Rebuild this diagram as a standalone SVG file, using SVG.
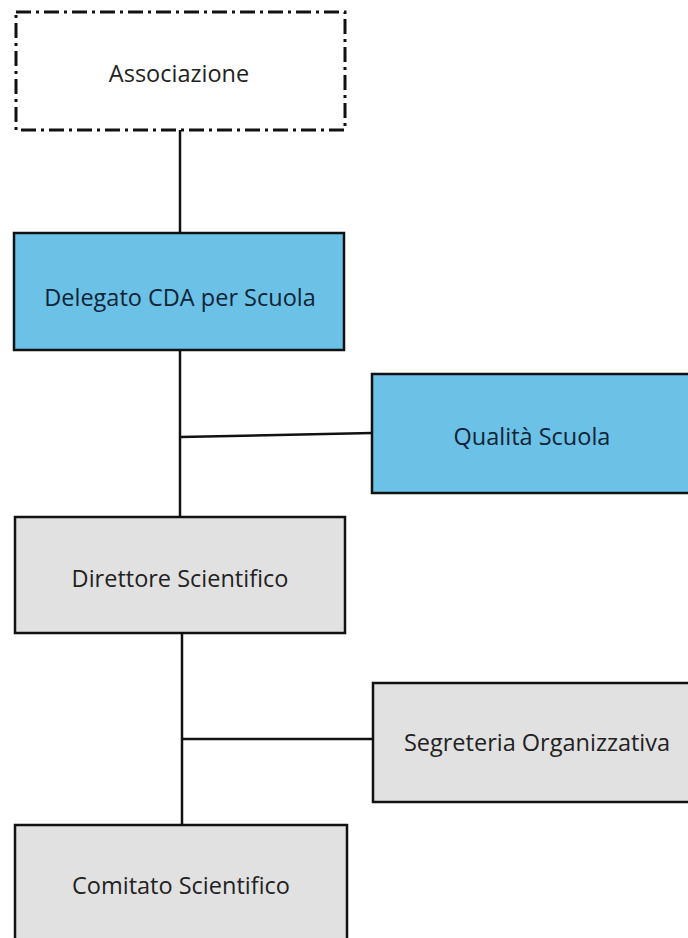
<svg xmlns="http://www.w3.org/2000/svg" width="688" height="938" viewBox="0 0 688 938">
<style>
.box{stroke:#111;stroke-width:2.5}
.blue{fill:#6BC1E6}
.gray{fill:#E1E1E1}
.dash{fill:#fff;stroke:#111;stroke-width:3;stroke-dasharray:15 5 3 5}
.lbl{font-family:"Open Sans","Liberation Sans",sans-serif;font-size:23.5px;text-anchor:middle;dominant-baseline:central}
.dk{fill:#222}
.nv{fill:#0f2436}
.conn{stroke:#111;stroke-width:2.5;fill:none}
</style>
<rect width="688" height="938" fill="#fff"/>
<g id="connectors">
<line class="conn" x1="180" y1="130" x2="180" y2="233"/>
<line class="conn" x1="180" y1="350" x2="180" y2="517"/>
<line class="conn" x1="180" y1="437" x2="372" y2="433"/>
<line class="conn" x1="182" y1="633" x2="182" y2="825"/>
<line class="conn" x1="182" y1="739" x2="373" y2="739"/>
</g>
<g id="associazione">
<rect class="dash" x="16" y="12" width="329" height="118"/>
<text class="lbl dk" x="179" y="73">Associazione</text>
</g>
<g id="delegato">
<rect class="box blue" x="14" y="233" width="330" height="117"/>
<text class="lbl nv" x="180" y="297">Delegato CDA per Scuola</text>
</g>
<g id="qualita">
<rect class="box blue" x="372" y="374" width="320" height="119"/>
<text class="lbl nv" x="532" y="436">Qualità Scuola</text>
</g>
<g id="direttore">
<rect class="box gray" x="15" y="517" width="330" height="116"/>
<text class="lbl dk" x="180" y="578">Direttore Scientifico</text>
</g>
<g id="segreteria">
<rect class="box gray" x="373" y="683" width="320" height="119"/>
<text class="lbl dk" x="537" y="742">Segreteria Organizzativa</text>
</g>
<g id="comitato">
<rect class="box gray" x="15" y="825" width="332" height="130"/>
<text class="lbl dk" x="181" y="885">Comitato Scientifico</text>
</g>
</svg>
